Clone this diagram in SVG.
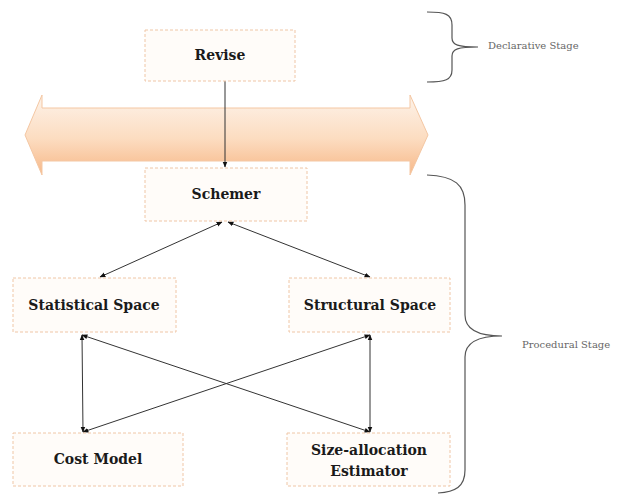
<svg xmlns="http://www.w3.org/2000/svg" width="618" height="494" viewBox="0 0 618 494">
  <style>
    .box { fill: #fffcf9; stroke: #efc6a6; stroke-width: 1; stroke-dasharray: 3 2; }
    .lbl { font-family: "DejaVu Serif", "Liberation Serif", serif; font-weight: bold; font-size: 14px; fill: #1a1a1a; text-anchor: middle; }
    .stage { font-family: "DejaVu Serif", "Liberation Serif", serif; font-size: 10px; fill: #666; }
    .conn { stroke: #333; stroke-width: 1; fill: none; marker-end: url(#tip); }
    .both { marker-start: url(#tip); }
    .brace { stroke: #555; stroke-width: 1.2; fill: none; }
  </style>
  <defs>
    <marker id="tip" viewBox="0 0 10 10" refX="9" refY="5" markerWidth="6" markerHeight="6" orient="auto-start-reverse" markerUnits="userSpaceOnUse">
      <path d="M0,1 L10,5 L0,9 Z" fill="#111"/>
    </marker>
    <linearGradient id="band" x1="0" y1="0" x2="0" y2="1">
      <stop offset="0" stop-color="#fdf3ea"/>
      <stop offset="0.55" stop-color="#fcdcc0"/>
      <stop offset="1" stop-color="#f7b888"/>
    </linearGradient>
  </defs>

  <!-- wide double-headed band -->
  <path d="M25,135 L42,95 L42,108 L410,108 L410,95 L428,135 L410,175 L410,161 L42,161 L42,175 Z" fill="url(#band)" stroke="#f4c7a3" stroke-width="1"/>

  <!-- connectors -->
  <g id="connectors">
    <line class="conn" x1="225" y1="81" x2="225" y2="167"/>
    <line class="conn both" x1="222" y1="222" x2="100" y2="277"/>
    <line class="conn both" x1="228" y1="222" x2="370" y2="277"/>
    <line class="conn both" x1="82" y1="335" x2="83" y2="432"/>
    <line class="conn both" x1="82" y1="335" x2="370" y2="432"/>
    <line class="conn both" x1="370" y1="335" x2="83" y2="432"/>
    <line class="conn both" x1="370" y1="335" x2="370" y2="432"/>
  </g>

  <g id="revise">
    <rect class="box" x="145" y="30" width="150" height="51"/>
    <text class="lbl" x="220" y="60">Revise</text>
  </g>
  <g id="schemer">
    <rect class="box" x="145" y="168" width="162" height="53"/>
    <text class="lbl" x="226" y="199">Schemer</text>
  </g>
  <g id="statistical-space">
    <rect class="box" x="13" y="278" width="163" height="54"/>
    <text class="lbl" x="94" y="310">Statistical Space</text>
  </g>
  <g id="structural-space">
    <rect class="box" x="289" y="278" width="161" height="54"/>
    <text class="lbl" x="370" y="310">Structural Space</text>
  </g>
  <g id="cost-model">
    <rect class="box" x="13" y="433" width="170" height="53"/>
    <text class="lbl" x="98" y="464">Cost Model</text>
  </g>
  <g id="size-allocation-estimator">
    <rect class="box" x="287" y="433" width="163" height="53"/>
    <text class="lbl" x="369" y="455">Size-allocation</text>
    <text class="lbl" x="369" y="476">Estimator</text>
  </g>

  <!-- stage braces -->
  <g id="declarative-stage">
    <path class="brace" d="M427,12 C445,12 452,14 452,25 L452,38 C452,45 458,47 478,47 C458,47 452,49 452,56 L452,70 C452,80 445,82 427,82"/>
    <text class="stage" x="488" y="49">Declarative Stage</text>
  </g>
  <g id="procedural-stage">
    <path class="brace" d="M427,175 C455,176 465,185 465,205 L465,315 C465,330 480,336 502,336 C480,336 465,342 465,357 L465,470 C465,487 455,492 438,493"/>
    <text class="stage" x="522" y="348">Procedural Stage</text>
  </g>
</svg>
